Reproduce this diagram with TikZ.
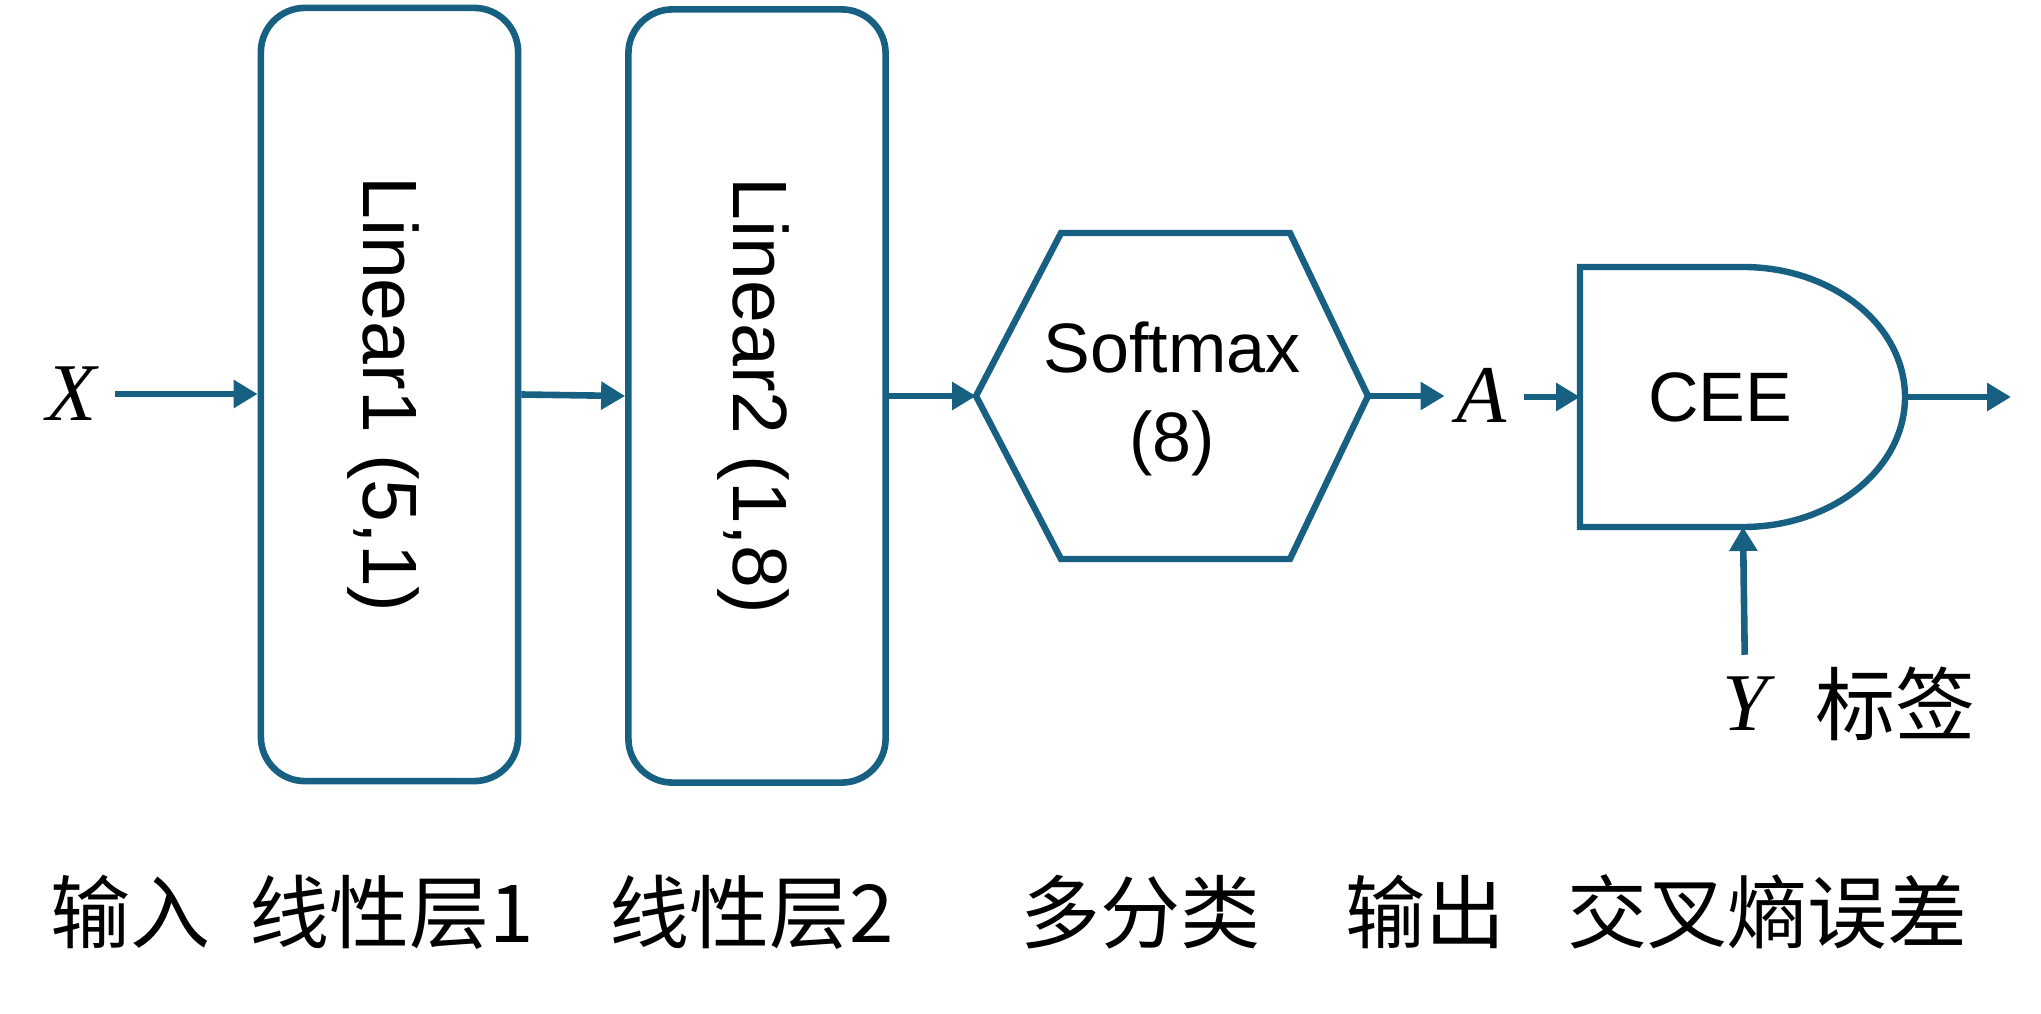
\documentclass[tikz,border=0pt]{standalone}
\usepackage{fontspec}
\setmainfont{Liberation Sans}
\newfontfamily\cjk{Noto Sans CJK SC}
\newfontfamily\serifvar{Liberation Serif}
\usetikzlibrary{arrows.meta}
\definecolor{edge}{RGB}{23,96,130}
\tikzset{
  box/.style={draw=edge, line width=3.3pt, rounded corners=22pt, minimum width=128.6pt, minimum height=386.6pt, inner sep=0pt},
  shp/.style={draw=edge, line width=3.2pt},
  conn/.style={draw=edge, line width=3.3pt, -{Triangle[length=12pt,width=13.5pt]}},
  lbl/.style={font=\fontsize{40}{48}\selectfont\cjk, inner sep=0pt},
  var/.style={font=\fontsize{41}{48}\selectfont\serifvar\itshape, inner sep=0pt},
  txt/.style={font=\fontsize{35}{44.5}\selectfont, inner sep=0pt, align=center},
  rtxt/.style={font=\fontsize{38.5}{46}\selectfont, inner sep=0pt, rotate=-90}
}
\begin{document}
\begin{tikzpicture}[x=1pt,y=1pt]
\useasboundingbox (0,0) rectangle (1020.5,506.5);
% input
\node[var] (X) at (36,309.5) {X};
% linear boxes
\node[box] (lin1) at (194.75,309.25) {};
\node[rtxt] (lin1t) at ([xshift=-3pt]lin1.center) {Linear1 (5,1)};
\node[box] (lin2) at (378.5,308.5) {};
\node[rtxt] (lin2t) at ([xshift=-2pt]lin2.center) {Linear2 (1,8)};
% hexagon
\coordinate (hL) at (488,308.5);
\coordinate (hTL) at (530.5,390);
\coordinate (hTR) at (645,390);
\coordinate (hR) at (684,308.5);
\coordinate (hBR) at (645,227);
\coordinate (hBL) at (530.5,227);
\draw[shp] (hL) -- (hTL) -- (hTR) -- (hR) -- (hBR) -- (hBL) -- cycle;
\node[txt] (sm) at (586,307) {Softmax\\(8)};
% A
\node[var] (A) at (741,309) {A};
% CEE shape
\coordinate (cW) at (790,308);
\coordinate (cTL) at (790,373);
\coordinate (cT) at (871.5,373);
\coordinate (cB) at (871.5,243);
\coordinate (cE) at (952.5,308);
\draw[shp] (cTL) -- (cT) arc[start angle=90, end angle=-90, x radius=81, y radius=65] -- (790,243) -- cycle;
\node[txt] (cee) at (860,308) {CEE};
\coordinate (out) at (1005.5,308);
% Y label
\node[var] (Y) at (872.5,154.5) {Y};
\node[lbl] (ylab) at (947.5,154.5) {标签};
% connectors
\draw[conn, shorten <=9pt] (X.east) -- (X.east -| lin1.west);
\draw[conn] (lin1.east) -- (lin2.west);
\draw[conn] (lin2.east) -- (hL);
\draw[conn, shorten >=6pt] (hR) -- (hR -| A.west);
\draw[conn, shorten <=8.5pt] (A.east |- cW) -- (cW);
\draw[conn] (cE) -- (out);
\draw[conn, shorten <=11pt] (Y.north) -- (cB);
% bottom labels
\node[lbl] (l1) at (65,50.5) {输入};
\node[lbl] (l2) at (196,50.5) {线性层1};
\node[lbl] (l3) at (376,50.5) {线性层2};
\node[lbl] (l4) at (570,50.5) {多分类};
\node[lbl] (l5) at (712.5,50.5) {输出};
\node[lbl] (l6) at (883.5,50.5) {交叉熵误差};
\end{tikzpicture}
\end{document}
